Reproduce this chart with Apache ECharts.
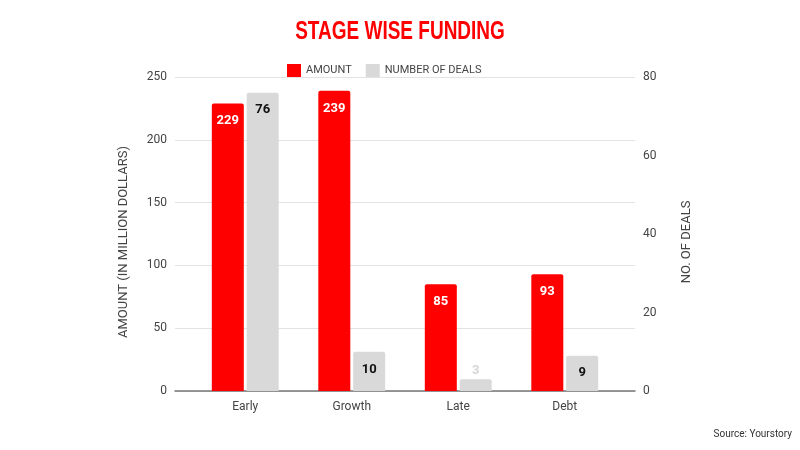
<!DOCTYPE html>
<html>
<head>
<meta charset="utf-8">
<script src="https://cdn.jsdelivr.net/npm/echarts@6/dist/echarts.min.js"></script>
<style>
  html, body { margin: 0; padding: 0; background: #fff; }
  #chart { width: 800px; height: 450px; }
</style>
</head>
<body>
<div id="chart"></div>
<script>
// stage wise funding data
var stages = ['Early', 'Growth', 'Late', 'Debt'];
var amount = [229, 239, 85, 93];
var deals = [76, 10, 3, 9];

var myChart = echarts.init(document.getElementById('chart'));

var dealData = deals.map(function (v) {
  // tiny bar -> label sits above it, faded
  if (v < 5) {
    return { value: v, label: { position: 'top', distance: 2, color: '#d6d6d6' } };
  }
  return v;
});

var font = 'Roboto, sans-serif';
var nameStyle = { color: '#444', fontSize: 13, fontFamily: font, padding: [0, 16, 0, 0] };

var option = {
  backgroundColor: '#fff',
  animation: false,
  legend: {
    top: 59,
    left: 282,
    itemWidth: 14,
    itemHeight: 13,
    itemGap: 14,
    icon: 'rect',
    textStyle: { color: '#444', fontSize: 11, fontFamily: font },
    data: ['AMOUNT', 'NUMBER OF DEALS']
  },
  // outer grid: gridlines + axes, inner grid: the bars
  grid: [
    { left: 175, right: 165, top: 77, bottom: 59 },
    { left: 192, right: 182, top: 77, bottom: 59 }
  ],
  xAxis: [
    {
      gridIndex: 0,
      type: 'category',
      data: [''],
      axisTick: { show: false },
      axisLabel: { show: false },
      axisLine: { lineStyle: { color: '#777', width: 1.5 } }
    },
    {
      gridIndex: 1,
      type: 'category',
      data: stages,
      axisTick: { show: false },
      axisLine: { show: false },
      axisLabel: { color: '#444', fontSize: 12, margin: 10, fontFamily: font }
    }
  ],
  yAxis: [
    {
      gridIndex: 0,
      type: 'value',
      min: 0, max: 250, interval: 50,
      name: 'AMOUNT (IN MILLION DOLLARS)',
      nameLocation: 'middle',
      nameRotate: 90,
      nameGap: 45,
      nameTextStyle: nameStyle,
      axisLabel: { color: '#444', fontSize: 12, margin: 8, fontFamily: font },
      splitLine: { lineStyle: { color: '#e3e3e3' } }
    },
    {
      gridIndex: 0,
      type: 'value',
      position: 'right',
      min: 0, max: 80, interval: 20,
      name: 'NO. OF DEALS',
      nameLocation: 'middle',
      nameRotate: 90,
      nameGap: 45,
      nameTextStyle: nameStyle,
      axisLabel: { color: '#444', fontSize: 12, margin: 8, fontFamily: font },
      splitLine: { show: false }
    },
    { gridIndex: 1, type: 'value', min: 0, max: 250, show: false },
    { gridIndex: 1, type: 'value', position: 'right', min: 0, max: 80, show: false }
  ],
  series: [
    {
      name: 'AMOUNT',
      type: 'bar',
      xAxisIndex: 1,
      yAxisIndex: 2,
      data: amount,
      barWidth: 32,
      barGap: '9%',
      itemStyle: { color: '#ff0000', borderRadius: [2, 2, 0, 0] },
      label: {
        show: true, position: 'insideTop', distance: 11,
        color: '#fff', fontWeight: 'bold', fontSize: 13, fontFamily: font
      }
    },
    {
      name: 'NUMBER OF DEALS',
      type: 'bar',
      xAxisIndex: 1,
      yAxisIndex: 3,
      data: dealData,
      barWidth: 32,
      itemStyle: { color: '#d9d9d9', borderRadius: [2, 2, 0, 0] },
      label: {
        show: true, position: 'insideTop', distance: 11,
        color: '#111', fontWeight: 'bold', fontSize: 13, fontFamily: font
      }
    }
  ],
  graphic: [
    {
      // condensed title
      type: 'text',
      x: 400,
      y: 32,
      scaleX: 0.76,
      style: {
        text: 'STAGE WISE FUNDING',
        x: 0, y: 0,
        textAlign: 'center',
        textVerticalAlign: 'middle',
        fill: '#ff0000',
        font: 'bold 25px "Liberation Sans", Arial, sans-serif'
      }
    },
    {
      type: 'text',
      right: 8,
      top: 429,
      style: { text: 'Source: Yourstory', fill: '#333', fontSize: 10, fontFamily: font }
    }
  ]
};

myChart.setOption(option);
</script>
</body>
</html>
